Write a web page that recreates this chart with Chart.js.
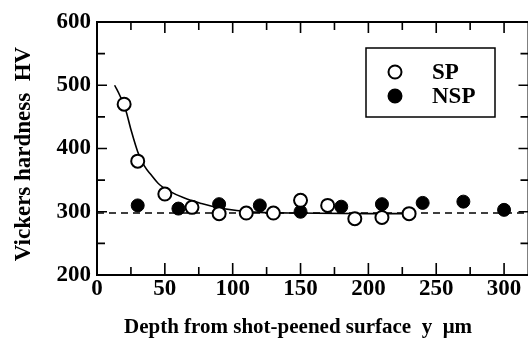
<!DOCTYPE html>
<html>
<head>
<meta charset="utf-8">
<script src="https://cdn.jsdelivr.net/npm/chart.js@4/dist/chart.umd.min.js"></script>
<style>
  html, body { margin: 0; padding: 0; background: #fff; overflow: hidden; }
  #wrap { width: 537px; height: 344px; position: relative; }
</style>
</head>
<body>
<div id="wrap"><canvas id="myChart"></canvas></div>
<script>
// shot-peened (open circles)
const spDepth = [20, 30, 50, 70, 90, 110, 130, 150, 170, 190, 210, 230];
const spHV    = [470, 380, 328, 307, 297, 298, 298, 318, 310, 289, 291, 297];

// non shot-peened (filled circles)
const nspDepth = [30, 60, 90, 120, 150, 180, 210, 240, 270, 300];
const nspHV    = [310, 305, 312, 310, 300, 308, 312, 314, 316, 303];

// solid fitted curve
const fitDepth = [13, 17, 21, 25, 30, 35, 40, 45, 53, 64, 77, 86, 103, 120, 150, 200, 235];
const fitHV    = [500, 483, 462, 430, 395, 372, 358, 345, 333, 322, 313, 308, 302, 299, 298, 297, 297];

// dashed base level
const baseDepth = [0, 318];
const baseHV    = [298, 298];

const xTicks = [0, 25, 50, 75, 100, 125, 150, 175, 200, 225, 250, 275, 300];
const yTicks = [200, 250, 300, 350, 400, 450, 500, 550, 600];
const xTickLabels = [0, 50, 100, 150, 200, 250, 300];
const yTickLabels = [200, 300, 400, 500, 600];

const xTitle = 'Depth from shot-peened surface  y  μm';
const yTitle = 'Vickers hardness  HV';

const serif = 'Liberation Serif';

function pts(xs, ys) {
	return xs.map((x, i) => ({ x: x, y: ys[i] }));
}

// frame, inward ticks, axis titles, boxed legend
const framePlugin = {
	id: 'frame',
	afterDraw(chart) {
		const ctx = chart.ctx;
		const ca = chart.chartArea;
		const xs = chart.scales.x;
		const ys = chart.scales.y;
		ctx.save();
		ctx.strokeStyle = '#000';
		ctx.lineWidth = 2;
		ctx.strokeRect(ca.left, ca.top, ca.right - ca.left, ca.bottom - ca.top);

		ctx.lineWidth = 1.6;
		ctx.beginPath();
		xs.ticks.forEach(t => {
			const v = t.value;
			if (v <= xs.min || v >= xs.max) return;
			const px = xs.getPixelForValue(v);
			const major = v % 50 === 0;
			ctx.moveTo(px, ca.bottom);
			ctx.lineTo(px, ca.bottom - (major ? 12 : 8));
			ctx.moveTo(px, ca.top);
			ctx.lineTo(px, ca.top + (major ? 11 : 8));
		});
		ys.ticks.forEach(t => {
			const v = t.value;
			if (v <= ys.min || v >= ys.max) return;
			const py = ys.getPixelForValue(v);
			const major = v % 100 === 0;
			ctx.moveTo(ca.left, py);
			ctx.lineTo(ca.left + (major ? 10 : 8), py);
			ctx.moveTo(ca.right, py);
			ctx.lineTo(ca.right - (major ? 10 : 8), py);
		});
		ctx.stroke();

		// axis titles
		ctx.fillStyle = '#000';
		ctx.textAlign = 'center';
		ctx.textBaseline = 'middle';
		ctx.font = 'bold 21px "' + serif + '"';
		ctx.fillText(xTitle, ca.left + 201, ca.bottom + 53);
		ctx.save();
		ctx.translate(ca.left - 73, ca.top + 132);
		ctx.rotate(-Math.PI / 2);
		ctx.font = 'bold 23px "' + serif + '"';
		ctx.fillText(yTitle, 0, 0);
		ctx.restore();

		// legend box
		const bx = ca.left + 269, by = ca.top + 26, bw = 129, bh = 69;
		ctx.lineWidth = 1.5;
		ctx.strokeRect(bx, by, bw, bh);
		ctx.textAlign = 'left';
		[0, 1].forEach(i => {
			const ds = chart.data.datasets[i];
			const cy = by + 24 + i * 24;
			ctx.beginPath();
			ctx.arc(bx + 29, cy, 6.5, 0, Math.PI * 2);
			ctx.fillStyle = ds.backgroundColor;
			ctx.fill();
			ctx.lineWidth = 2;
			ctx.strokeStyle = '#000';
			ctx.stroke();
			ctx.fillStyle = '#000';
			ctx.font = 'bold 23px "' + serif + '"';
			ctx.fillText(ds.label, bx + 66, cy + 1);
		});
		ctx.restore();
	}
};

const data = {
	datasets: [
		{
			label: 'SP',
			data: pts(spDepth, spHV),
			backgroundColor: '#ffffff',
			borderColor: '#000000',
			borderWidth: 2,
			pointRadius: 6.5,
			showLine: false
		},
		{
			label: 'NSP',
			data: pts(nspDepth, nspHV),
			backgroundColor: '#000000',
			borderColor: '#000000',
			borderWidth: 1,
			pointRadius: 6.5,
			showLine: false
		},
		{
			label: 'fit',
			data: pts(fitDepth, fitHV),
			showLine: true,
			borderColor: '#000000',
			borderWidth: 1.6,
			pointRadius: 0,
			cubicInterpolationMode: 'monotone'
		},
		{
			label: 'base',
			data: pts(baseDepth, baseHV),
			showLine: true,
			borderColor: '#000000',
			borderWidth: 1.6,
			borderDash: [7, 5],
			pointRadius: 0
		}
	]
};

const config = {
	type: 'scatter',
	data,
	plugins: [framePlugin],
	options: {
		responsive: true,
		maintainAspectRatio: false,
		animation: false,
		layout: { padding: { top: 22, right: 1, left: 0, bottom: 0 } },
		plugins: {
			legend: { display: false },
			tooltip: { enabled: false }
		},
		scales: {
			x: {
				type: 'linear',
				min: 0,
				max: 318,
				grid: { display: false, drawTicks: false },
				border: { display: false },
				afterBuildTicks: s => { s.ticks = xTicks.map(v => ({ value: v })); },
				afterFit: s => { s.height = 69; s.paddingRight = 0; },
				ticks: {
					padding: 0,
					maxRotation: 0,
					autoSkip: false,
					color: '#000',
					font: { family: serif, size: 23, weight: 'bold' },
					callback: v => xTickLabels.includes(v) ? String(v) : ''
				}
			},
			y: {
				type: 'linear',
				min: 200,
				max: 600,
				grid: { display: false, drawTicks: false },
				border: { display: false },
				afterBuildTicks: s => { s.ticks = yTicks.map(v => ({ value: v })); },
				afterFit: s => { s.width = 97; },
				ticks: {
					padding: 6,
					autoSkip: false,
					color: '#000',
					font: { family: serif, size: 23, weight: 'bold' },
					callback: v => yTickLabels.includes(v) ? String(v) : ''
				}
			}
		}
	}
};

new Chart(document.getElementById('myChart'), config);
</script>
</body>
</html>
